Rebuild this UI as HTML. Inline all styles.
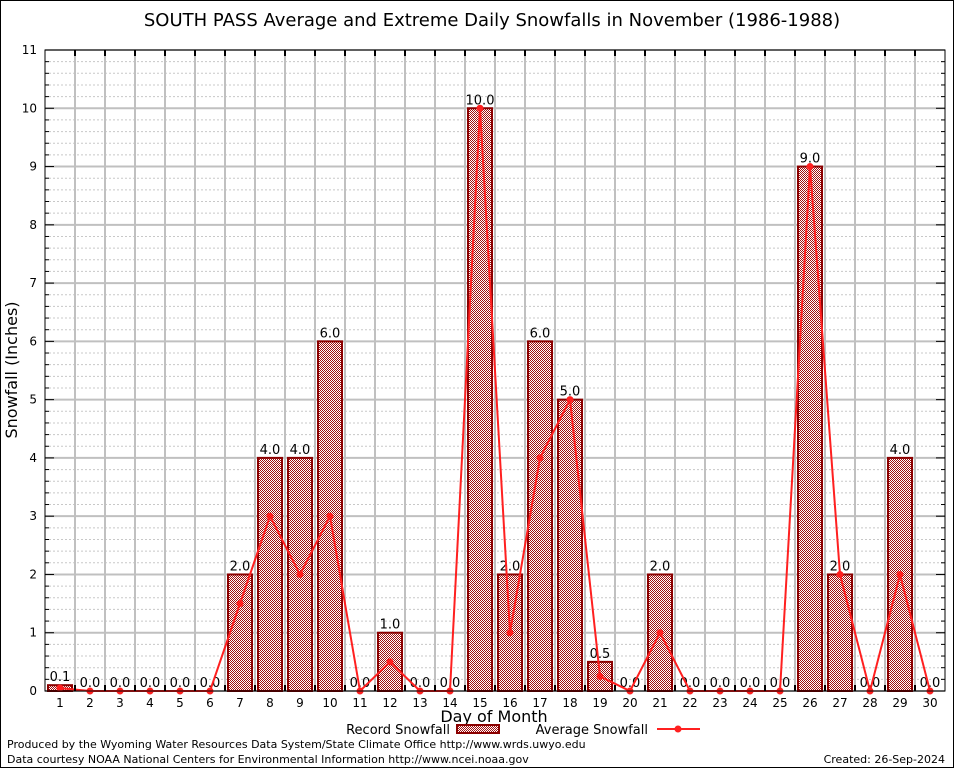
<!DOCTYPE html>
<html><head><meta charset="utf-8"><style>
body{margin:0;background:#fff}
svg text{font-family:"DejaVu Sans","Liberation Sans",sans-serif}
</style></head><body>
<svg id="chart" width="954" height="768" xmlns="http://www.w3.org/2000/svg">
<defs>
<pattern id="chk" width="2" height="2" patternUnits="userSpaceOnUse">
<rect width="2" height="2" fill="#fff"/><rect width="1" height="1" fill="#a01010"/><rect x="1" y="1" width="1" height="1" fill="#a01010"/>
</pattern>
</defs>
<rect x="0.5" y="0.5" width="953" height="767" fill="#fff" stroke="#000"/>
<text x="492" y="26" font-size="18" text-anchor="middle" font-family="Liberation Sans,sans-serif">SOUTH PASS Average and Extreme Daily Snowfalls in November (1986-1988)</text>
<g id="grid"></g>
<g id="bars"></g>
<g id="line"></g>
<g id="axes"></g>
<text x="17" y="370" font-size="16" text-anchor="middle" transform="rotate(-90 17 370)">Snowfall (Inches)</text>
<text x="494" y="722" font-size="16" text-anchor="middle">Day of Month</text>
<g>
<text x="450" y="734" font-size="13" text-anchor="end">Record Snowfall</text>
<rect x="457" y="725" width="42" height="8" fill="url(#chk)" stroke="#8b0000" stroke-width="2"/>
<text x="648" y="734" font-size="13" text-anchor="end">Average Snowfall</text>
<line x1="657" y1="729" x2="700" y2="729" stroke="#ff2020" stroke-width="2"/>
<circle cx="678" cy="729" r="3.5" fill="#ff2020"/>
</g>
<text x="7" y="748" font-size="11">Produced by the Wyoming Water Resources Data System/State Climate Office http://www.wrds.uwyo.edu</text>
<text x="7" y="763" font-size="11">Data courtesy NOAA National Centers for Environmental Information http://www.ncei.noaa.gov</text>
<text x="945" y="763" font-size="11" text-anchor="end">Created: 26-Sep-2024</text>
</svg>
<script>
const days=[1,2,3,4,5,6,7,8,9,10,11,12,13,14,15,16,17,18,19,20,21,22,23,24,25,26,27,28,29,30];
const recordSnow=[0.1,0,0,0,0,0,2,4,4,6,0,1,0,0,10,2,6,5,0.5,0,2,0,0,0,0,9,2,0,4,0];
const avgSnow=[0.05,0,0,0,0,0,1.5,3,2,3,0,0.5,0,0,10,1,4,5,0.25,0,1,0,0,0,0,9,2,0,2,0];
const yTicks=[0,1,2,3,4,5,6,7,8,9,10,11];
const L=45,R=945,T=50,B=691,YMAX=11;
const NS="http://www.w3.org/2000/svg";
const bw=(R-L)/days.length;
const xs=d=>L+(d-0.5)*bw;
const ys=v=>B-(v/YMAX)*(B-T);
function mk(tag,attrs,parent,txt){const e=document.createElementNS(NS,tag);for(const k in attrs)e.setAttribute(k,attrs[k]);if(txt!==undefined)e.textContent=txt;document.getElementById(parent).appendChild(e);return e;}
for(let v=0;v<YMAX;v+=0.2){if(Math.abs(v-Math.round(v))<0.01)continue;const g=mk('line',{x1:L,x2:R,y1:ys(v),y2:ys(v),stroke:'#c8c8c8','stroke-width':1,'stroke-dasharray':'2,2'},'grid');

}
yTicks.forEach(t=>{const g=mk('line',{x1:L,x2:R,y1:ys(t),y2:ys(t),stroke:'#c0c0c0','stroke-width':2},'grid');


const lb=mk('text',{x:L-8,y:ys(t)+4,'font-size':12,'text-anchor':'end','font-family':'Liberation Serif,serif'},'axes',String(t));

});
for(let i=1;i<days.length;i++){const g=mk('line',{x1:L+i*bw,x2:L+i*bw,y1:T,y2:B,stroke:'#c0c0c0','stroke-width':2},'grid');

}
days.forEach((d,i)=>{const v=recordSnow[i];const x=xs(d)-12;const y=ys(v);
if(v>0){const r=mk('rect',{x:x,y:y,width:24,height:B-y,fill:'url(#chk)',stroke:'#8b0000','stroke-width':2},'bars');

}
const t=mk('text',{x:xs(d),y:y-4,'font-size':13,'text-anchor':'middle'},'bars',v.toFixed(1));


const xl=mk('text',{x:xs(d),y:B+16,'font-size':12,'text-anchor':'middle','font-family':'Liberation Serif,serif'},'axes',String(d));

});
const pts=days.map((d,i)=>xs(d)+','+ys(avgSnow[i])).join(' ');
const pl=mk('polyline',{points:pts,fill:'none',stroke:'#ff2020','stroke-width':2},'line');


days.forEach((d,i)=>{const c=mk('circle',{cx:xs(d),cy:ys(avgSnow[i]),r:3.5,fill:'#ff2020'},'line');

});
const f=mk('rect',{x:L,y:T,width:R-L,height:B-T,fill:'none',stroke:'#000','stroke-width':1},'axes');


for(let v=0;v<=YMAX+0.001;v+=0.2){const maj=Math.abs(v-Math.round(v))<0.01;const w=maj?9:4;
const a=mk('line',{x1:L,x2:L+w,y1:ys(v),y2:ys(v),stroke:'#000'},'axes');


const b=mk('line',{x1:R-w,x2:R,y1:ys(v),y2:ys(v),stroke:'#000'},'axes');

}
for(let i=1;i<days.length;i++){const a=mk('line',{x1:L+i*bw,x2:L+i*bw,y1:T,y2:T+6,stroke:'#000','stroke-width':2},'axes');


const b=mk('line',{x1:L+i*bw,x2:L+i*bw,y1:B-6,y2:B,stroke:'#000','stroke-width':2},'axes');

}
</script>
</body></html>
